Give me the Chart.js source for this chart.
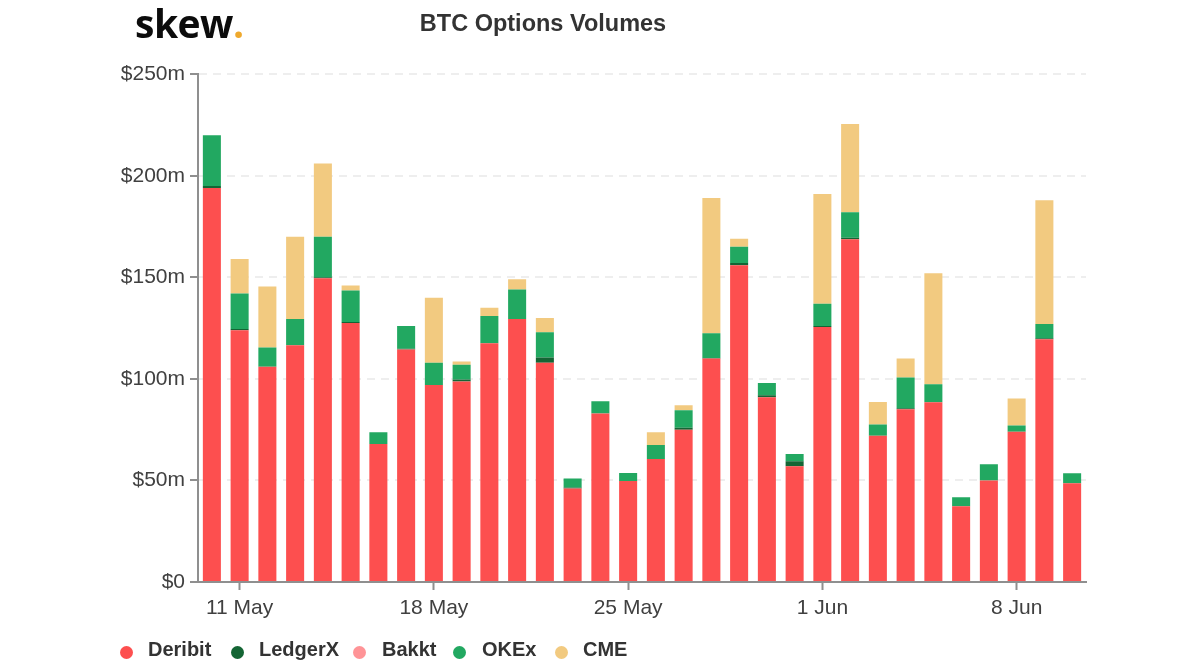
<!DOCTYPE html>
<html>
<head>
<meta charset="utf-8">
<title>BTC Options Volumes</title>
<script src="https://cdn.jsdelivr.net/npm/chart.js@4"></script>
<style>
  html, body { margin: 0; padding: 0; background: #fff; }
  #wrap { position: relative; width: 1200px; height: 670px; overflow: hidden; }
  #logo { position: absolute; left: 135px; top: -4px; font: 700 39px "Open Sans", sans-serif; color: #0c0c0c; letter-spacing: -0.5px; }
  #logo span { color: #efa92d; }
  #legend { position: absolute; left: 0; top: 637px; font: 700 20px "Liberation Sans", sans-serif; color: #333; }
  #legend .item { position: absolute; top: 0; white-space: nowrap; line-height: 24px; }
  #legend i { position: absolute; top: 9px; width: 13px; height: 13px; border-radius: 50%; }
</style>
</head>
<body>
<div id="wrap">
  <canvas id="volumes" width="1200" height="670"></canvas>
  <div id="logo">skew<span>.</span></div>
  <div id="legend"></div>
</div>
<script>
const days = [
  "10 May", "11 May", "12 May", "13 May", "14 May", "15 May", "16 May", "17 May",
  "18 May", "19 May", "20 May", "21 May", "22 May", "23 May", "24 May", "25 May",
  "26 May", "27 May", "28 May", "29 May", "30 May", "31 May", "1 Jun", "2 Jun",
  "3 Jun", "4 Jun", "5 Jun", "6 Jun", "7 Jun", "8 Jun", "9 Jun", "10 Jun",
];
const tickDays = ["11 May", "18 May", "25 May", "1 Jun", "8 Jun"];
const yTicks = [0, 50, 100, 150, 200, 250];

// $m per day
const deribit = [194, 124, 106, 116.5, 149.5, 127.5, 68, 114.5, 97, 98.7, 117.5, 129.5, 108, 46, 83, 49.7,
  60.5, 75, 110, 156, 91, 57, 125.5, 168.7, 72, 85, 88.5, 37.3, 50, 74, 119.5, 48.6];
const ledgerx = [1, 0.5, 0, 0, 0.5, 0.5, 0, 0.3, 0, 1, 0, 0, 2.5, 0.5, 0, 0,
  0, 1, 0.3, 1, 1, 2.5, 0.5, 0.8, 0, 0.5, 0, 0, 0, 0, 0.5, 0];
const bakkt = [0, 0, 0, 0, 0, 0, 0, 0, 0, 0, 0, 0, 0, 0, 0, 0,
  0, 0, 0, 0, 0, 0, 0, 0, 0, 0, 0, 0, 0, 0, 0, 0];
const okex = [25, 17.5, 9.5, 13, 20, 15.5, 5.7, 11.2, 11, 7.3, 13.5, 14.5, 12.5, 4.5, 6, 4,
  7, 8.5, 12.2, 8, 6, 3.5, 11, 12.5, 5.6, 15.2, 8.8, 4.4, 8, 3, 7, 4.9];
const cme = [0, 17, 30, 40.5, 36, 2.5, 0, 0, 32, 1.5, 4, 5, 7, 0, 0, 0,
  6.2, 2.5, 66.5, 4, 0, 0, 54, 43.5, 11, 9.3, 54.7, 0, 0, 13.4, 61, 0];

const seriesNames = ["Deribit", "LedgerX", "Bakkt", "OKEx", "CME"];
const seriesColors = ["#fd4f4f", "#146534", "#ff9497", "#22a861", "#f2ca80"];
const seriesValues = [deribit, ledgerx, bakkt, okex, cme];
const legendDotX = [119.5, 230.5, 352.5, 452.5, 554.5];
const legendTextX = [148, 259, 382, 482, 583];

const axisColor = "#8f8f8f";
const labelColor = "#404040";
const labelFont = { family: "'Liberation Sans', sans-serif", size: 21 };

const chart = new Chart(document.getElementById("volumes"), {
  type: "bar",
  data: {
    labels: days,
    datasets: seriesNames.map((name, i) => ({
      label: name,
      data: seriesValues[i],
      backgroundColor: seriesColors[i],
      stack: "volume",
      barPercentage: 0.65,
      categoryPercentage: 1,
    })),
  },
  options: {
    responsive: false,
    animation: false,
    layout: { padding: { left: 0, right: 114, top: 0, bottom: 0 } },
    plugins: {
      legend: { display: false },
      tooltip: { enabled: false },
      title: {
        display: true,
        text: "BTC Options Volumes",
        color: "#333",
        font: { family: "'Liberation Sans', sans-serif", size: 23.5, weight: "bold" },
        padding: { top: 10, bottom: 36 },
      },
    },
    scales: {
      x: {
        stacked: true,
        afterFit: (scale) => { scale.height = 88; },
        afterBuildTicks: (scale) => {
          scale.ticks = scale.ticks.filter((t) => tickDays.includes(days[t.value]));
        },
        border: { color: axisColor, width: 2 },
        grid: { offset: false, drawOnChartArea: false, tickColor: axisColor, tickWidth: 2, tickLength: 8 },
        ticks: { autoSkip: false, maxRotation: 0, color: labelColor, font: labelFont, padding: 6 },
      },
      y: {
        stacked: true,
        min: 0,
        max: 250,
        afterFit: (scale) => { scale.width = 198; },
        afterBuildTicks: (scale) => { scale.ticks = yTicks.map((v) => ({ value: v })); },
        border: { color: axisColor, width: 2, dash: [8, 6] },
        grid: { color: "#eeeeee", lineWidth: 2, tickColor: axisColor, tickLength: 8 },
        ticks: {
          color: labelColor,
          font: labelFont,
          padding: 5,
          callback: (v) => (v === 0 ? "$0" : `$${v}m`),
        },
      },
    },
  },
});

function renderLegend() {
  const box = document.getElementById("legend");
  box.innerHTML = chart.data.datasets
    .map((d, i) => `<i style="left:${legendDotX[i]}px;background:${d.backgroundColor}"></i>` +
      `<span class="item" style="left:${legendTextX[i]}px">${d.label}</span>`)
    .join("");
}

renderLegend();
</script>
</body>
</html>
